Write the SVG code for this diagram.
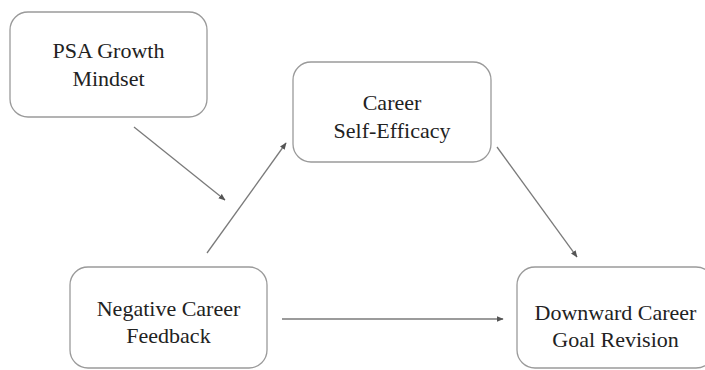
<svg xmlns="http://www.w3.org/2000/svg" width="705" height="370" viewBox="0 0 705 370">
<style>
.box{fill:#fff;stroke:#9a9a9a;stroke-width:1.3}
.lbl{font-family:"Liberation Serif","Times New Roman",serif;font-size:22px;fill:#222;text-anchor:middle}
.edge{stroke:#7a7a7a;stroke-width:1.3;fill:none;marker-end:url(#ah)}
</style>
<defs>
<marker id="ah" viewBox="0 0 10 10" refX="9" refY="5" markerWidth="7" markerHeight="7" markerUnits="userSpaceOnUse" orient="auto">
<path d="M0,1 L10,5 L0,9 Z" fill="#555"/>
</marker>
</defs>
<rect width="705" height="370" fill="#fff"/>
<g id="psa">
<rect class="box" x="10" y="12" width="197" height="105" rx="18"/>
<text class="lbl" x="108.5" y="58">PSA Growth</text>
<text class="lbl" x="108.5" y="86">Mindset</text>
</g>
<g id="cse">
<rect class="box" x="293" y="62" width="198" height="100" rx="18"/>
<text class="lbl" x="392" y="110">Career</text>
<text class="lbl" x="392" y="138">Self-Efficacy</text>
</g>
<g id="ncf">
<rect class="box" x="70" y="267" width="197" height="101" rx="18"/>
<text class="lbl" x="168.5" y="316">Negative Career</text>
<text class="lbl" x="168.5" y="343">Feedback</text>
</g>
<g id="dcgr">
<rect class="box" x="517" y="267" width="197" height="101" rx="18"/>
<text class="lbl" x="615.5" y="320">Downward Career</text>
<text class="lbl" x="615.5" y="347">Goal Revision</text>
</g>
<g id="connectors">
<line class="edge" x1="134" y1="127" x2="225" y2="200"/>
<line class="edge" x1="207" y1="253" x2="286" y2="143"/>
<line class="edge" x1="497" y1="147" x2="577" y2="257"/>
<line class="edge" x1="282" y1="319" x2="503" y2="319"/>
</g>
</svg>
